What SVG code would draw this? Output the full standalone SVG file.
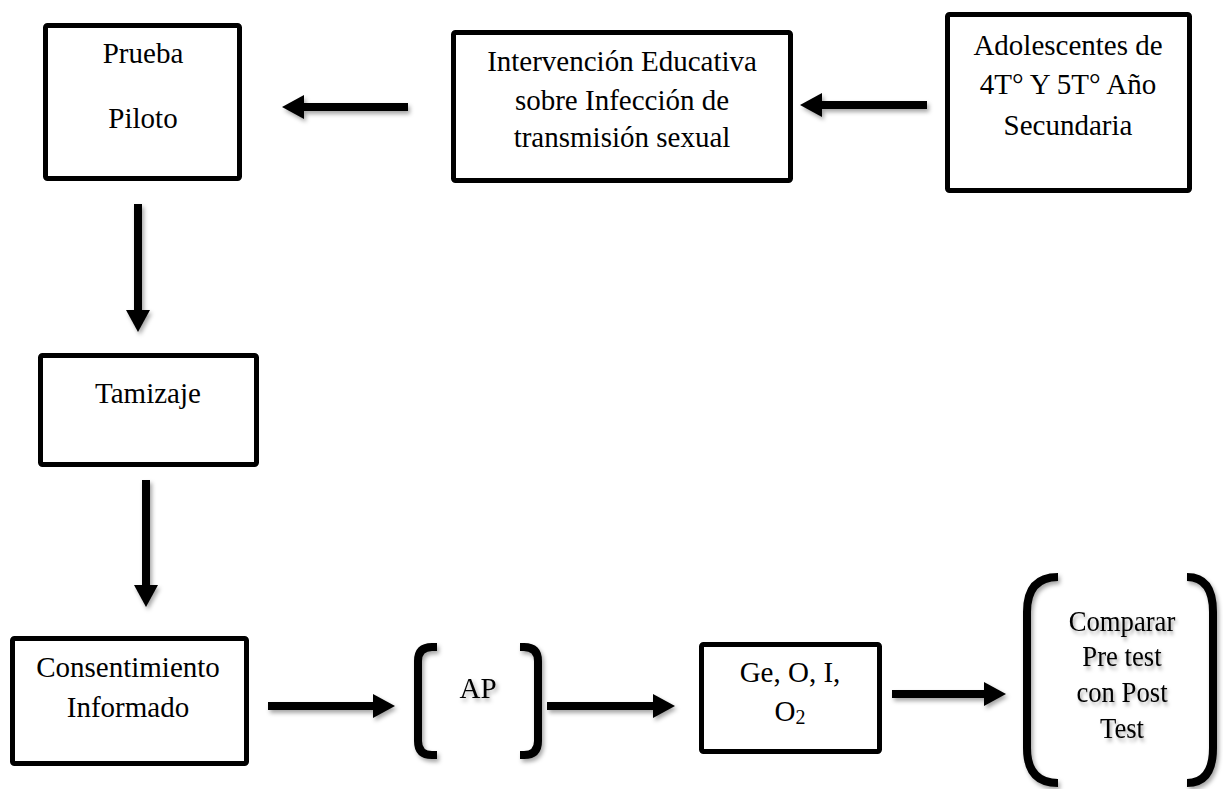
<svg xmlns="http://www.w3.org/2000/svg" width="1223" height="789" viewBox="0 0 1223 789">
<defs>
<filter id="sh" x="-20%" y="-20%" width="140%" height="160%">
<feDropShadow dx="2" dy="3" stdDeviation="2" flood-color="#000" flood-opacity="0.35"/>
</filter>
<marker id="ah" markerUnits="userSpaceOnUse" markerWidth="24" markerHeight="24" refX="12" refY="12" orient="auto">
<path d="M0,0 L22,12 L0,24 z" fill="#000"/>
</marker>
<style>
.box{fill:#fff;stroke:#000;stroke-width:5;stroke-linejoin:round}
.t{font-family:'Liberation Serif','Times New Roman',serif;font-size:29px;fill:#000;text-anchor:middle}
.c{stroke:#000;stroke-width:8;fill:none;marker-end:url(#ah)}
.br{stroke:#000;stroke-width:8;fill:none}
</style>
</defs>
<rect width="1223" height="789" fill="#fff"/>

<g id="connectors" filter="url(#sh)">
<line class="c" x1="927" y1="105" x2="810" y2="105"/>
<line class="c" x1="408" y1="107" x2="292" y2="107"/>
<line class="c" x1="138" y1="204" x2="138" y2="322"/>
<line class="c" x1="146" y1="480" x2="146" y2="597"/>
<line class="c" x1="268" y1="706" x2="385" y2="706"/>
<line class="c" x1="547" y1="706" x2="665" y2="706"/>
<line class="c" x1="892" y1="694" x2="996" y2="694"/>
</g>

<g id="prueba">
<rect class="box" x="45.5" y="25.5" width="194" height="153" rx="2"/>
<text class="t" x="143" y="63">Prueba</text>
<text class="t" x="143" y="128">Piloto</text>
</g>

<g id="intervencion">
<rect class="box" x="453.5" y="32.5" width="337" height="148" rx="2"/>
<text class="t" x="622" y="71">Intervención Educativa</text>
<text class="t" x="622" y="110">sobre Infección de</text>
<text class="t" x="622" y="147">transmisión sexual</text>
</g>

<g id="adolescentes">
<rect class="box" x="947.5" y="14.5" width="242" height="176" rx="2"/>
<text class="t" x="1068" y="55">Adolescentes de</text>
<text class="t" x="1068" y="94">4T° Y 5T° Año</text>
<text class="t" x="1068" y="135">Secundaria</text>
</g>

<g id="tamizaje">
<rect class="box" x="40.5" y="355.5" width="216" height="109" rx="2"/>
<text class="t" x="148" y="403">Tamizaje</text>
</g>

<g id="consentimiento">
<rect class="box" x="12.5" y="638.5" width="234" height="125" rx="2"/>
<text class="t" x="128" y="677">Consentimiento</text>
<text class="t" x="128" y="717">Informado</text>
</g>

<g id="ap">
<g filter="url(#sh)">
<path class="br" d="M437,647 H432 Q418,647 418,661 V741 Q418,755 432,755 H437"/>
<path class="br" d="M520,647 H524 Q538,647 538,661 V741 Q538,755 524,755 H520"/>
</g>
<text class="t" x="478" y="698" filter="url(#sh)">AP</text>
</g>

<g id="ge">
<rect class="box" x="701.5" y="644.5" width="178" height="107" rx="2"/>
<text class="t" x="790" y="682">Ge, O, I,</text>
<text class="t" x="790" y="721">O<tspan font-size="20" dy="3">2</tspan></text>
</g>

<g id="comparar">
<g filter="url(#sh)">
<path class="br" d="M1058,577 Q1027,577 1027,612 V748 Q1027,783 1058,783"/>
<path class="br" d="M1187,577 Q1213,577 1213,612 V748 Q1213,783 1187,783"/>
</g>
<g filter="url(#sh)" transform="translate(1122,0) scale(0.92,1)">
<text class="t" x="0" y="631" font-size="30">Comparar</text>
<text class="t" x="0" y="666" font-size="30">Pre test</text>
<text class="t" x="0" y="702" font-size="30">con Post</text>
<text class="t" x="0" y="738" font-size="30">Test</text>
</g>
</g>
</svg>
